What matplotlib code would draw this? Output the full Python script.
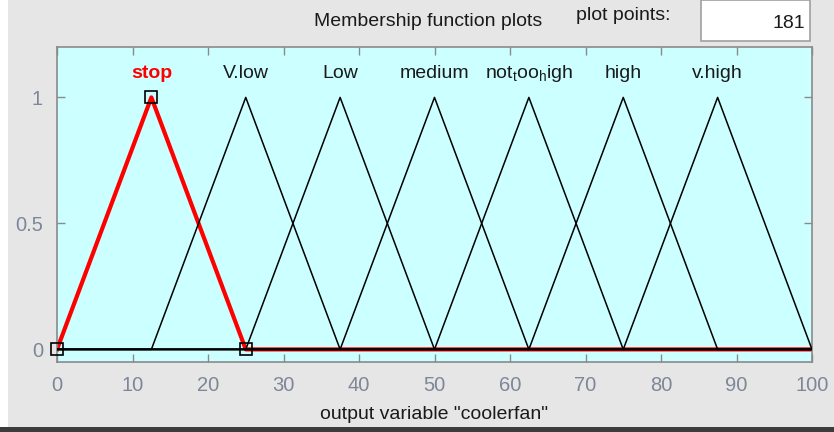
import numpy as np
import matplotlib.pyplot as plt
from matplotlib.patches import Rectangle

plt.rcParams['font.family'] = ['Liberation Sans', 'DejaVu Sans']
plt.rcParams['mathtext.fontset'] = 'custom'
plt.rcParams['mathtext.rm'] = 'Liberation Sans'
plt.rcParams['mathtext.it'] = 'Liberation Sans'
plt.rcParams['mathtext.default'] = 'regular'

# Output membership functions (trimf parameters a, b, c)
mf_names = ['stop', 'V.low', 'Low', 'medium', 'not$_{t}$oo$_{h}$igh', 'high', 'v.high']
mf_a = [0, 12.5, 25, 37.5, 50, 62.5, 75]
mf_b = [12.5, 25, 37.5, 50, 62.5, 75, 87.5]
mf_c = [25, 37.5, 50, 62.5, 75, 87.5, 100]
selected = 0

x_range = [0, 100]
x_ticks = [0, 10, 20, 30, 40, 50, 60, 70, 80, 90, 100]
y_ticks = [0, 0.5, 1]
y_tick_labels = ['0', '0.5', '1']
plot_points = 181

W, H = 834, 432
fig = plt.figure(figsize=(W / 100, H / 100), dpi=100, facecolor='white')

# panel background and bottom edge
fig.patches.append(Rectangle((8 / W, 5 / H), 1, 1, transform=fig.transFigure,
                             facecolor='#e6e6e6', edgecolor='none', zorder=-10))
fig.patches.append(Rectangle((0, 0), 1, 5 / H, transform=fig.transFigure,
                             facecolor='#3c3c3c', edgecolor='none', zorder=-10))
# plot points edit box
fig.patches.append(Rectangle((701 / W, 1 - 41 / H), 109 / W, 41 / H, transform=fig.transFigure,
                             facecolor='white', edgecolor='#a0a0a0', lw=1.2, zorder=-5))

ax = fig.add_axes([57 / W, 70 / H, 755 / W, 315 / H])
ax.set_facecolor('#ccffff')

for i in range(len(mf_names)):
    xs = [x_range[0], mf_a[i], mf_b[i], mf_c[i], x_range[1]]
    ys = [0, 0, 1, 0, 0]
    if i == selected:
        ax.plot(xs, ys, color='red', lw=3, zorder=2)
        ax.plot([mf_a[i], mf_b[i], mf_c[i]], [0, 1, 0], ls='none', marker='s', ms=8,
                mfc='none', mec='black', mew=1.2, zorder=4, clip_on=False)
    else:
        ax.plot(xs, ys, color='black', lw=1.1, zorder=3)
    ax.text(mf_b[i], 1.095, mf_names[i], ha='center', va='center', fontsize=14,
            color='red' if i == selected else '#1a1a1a',
            fontweight='bold' if i == selected else 'normal')

ax.set_xlim(x_range)
ax.set_ylim(-0.05, 1.2)
ax.set_xticks(x_ticks)
ax.set_yticks(y_ticks)
ax.set_yticklabels(y_tick_labels)
ax.tick_params(direction='in', length=6, width=1, color='#8a8a8a', labelcolor='#7d8798',
               labelsize=14.5, top=True, right=True, pad=10)
for s in ax.spines.values():
    s.set_color('#8a8a8a')
    s.set_linewidth(1.2)
ax.set_xlabel('output variable "coolerfan"', fontsize=14, color='#1a1a1a', labelpad=8)

fig.text(428 / W, 1 - 22 / H, 'Membership function plots', ha='center', va='center',
         fontsize=14, color='#1a1a1a')
fig.text(623 / W, 1 - 15 / H, 'plot points:', ha='center', va='center',
         fontsize=14, color='#1a1a1a')
fig.text(805 / W, 1 - 23 / H, str(plot_points), ha='right', va='center',
         fontsize=14, color='#1a1a1a')

fig.savefig('out.png', dpi=100, facecolor=fig.get_facecolor())
